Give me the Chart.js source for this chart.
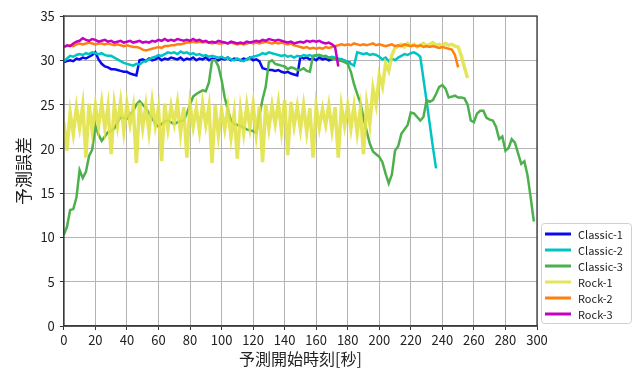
<!DOCTYPE html>
<html>
<head>
<meta charset="utf-8">
<script src="https://cdn.jsdelivr.net/npm/chart.js@4.4.1/dist/chart.umd.min.js"></script>
<style>
  body { margin: 0; background: #fff; }
  canvas { display: block; }
</style>
</head>
<body>
<canvas id="errorChart" width="639" height="369"></canvas>
<script>
// sample times [s], every 2 seconds
const seconds = [
  0, 2, 4, 6, 8, 10, 12, 14, 16, 18, 20, 22, 24, 26, 28, 30, 32, 34, 36, 38,
  40, 42, 44, 46, 48, 50, 52, 54, 56, 58, 60, 62, 64, 66, 68, 70, 72, 74, 76, 78,
  80, 82, 84, 86, 88, 90, 92, 94, 96, 98, 100, 102, 104, 106, 108, 110, 112, 114, 116, 118,
  120, 122, 124, 126, 128, 130, 132, 134, 136, 138, 140, 142, 144, 146, 148, 150, 152, 154, 156, 158,
  160, 162, 164, 166, 168, 170, 172, 174, 176, 178, 180, 182, 184, 186, 188, 190, 192, 194, 196, 198,
  200, 202, 204, 206, 208, 210, 212, 214, 216, 218, 220, 222, 224, 226, 228, 230, 232, 234, 236, 238,
  240, 242, 244, 246, 248, 250, 252, 254, 256, 258, 260, 262, 264, 266, 268, 270, 272, 274, 276, 278,
  280, 282, 284, 286, 288, 290, 292, 294, 296, 298
];

const seriesNames = ['Classic-1', 'Classic-2', 'Classic-3', 'Rock-1', 'Rock-2', 'Rock-3'];

const classic1 = [
  29.8, 29.9, 30.0, 29.9, 30.2, 30.1, 30.3, 30.2, 30.4, 30.6, 30.9, 30.1, 29.6, 29.3, 29.2, 29.0, 29.0, 28.9, 28.8, 28.7,
  28.7, 28.5, 28.4, 28.3, 30.0, 30.1, 29.9, 30.2, 30.0, 30.1, 30.3, 30.0, 30.2, 30.1, 30.3, 30.2, 30.1, 30.3, 30.0, 30.2,
  30.1, 30.3, 30.0, 30.2, 30.1, 30.3, 30.0, 30.2, 30.1, 30.0, 30.2, 30.1, 30.3, 30.0, 30.2, 30.1, 30.0, 30.2, 30.1, 30.3,
  30.0, 30.1, 29.9, 29.1, 29.0, 28.9, 28.9, 28.8, 28.9, 28.7, 28.6, 28.7, 28.5, 28.4, 28.3, 30.4, 30.2, 30.3, 30.1, 30.2,
  30.0, 30.3, 30.1, 30.2, 30.0, 30.1, 30.2, 30.0, 30.1, 29.9, 29.8, 29.7
];
const classic2 = [
  29.9, 30.2, 30.5, 30.4, 30.6, 30.7, 30.6, 30.8, 30.7, 30.9, 30.8, 30.7, 30.8, 30.6, 30.5, 30.5, 30.3, 30.1, 29.9, 29.7,
  29.6, 29.5, 29.4, 29.6, 29.5, 29.8, 29.9, 30.1, 30.3, 30.4, 30.6, 30.5, 30.7, 30.9, 30.8, 30.9, 30.7, 31.0, 30.8, 30.9,
  30.7, 30.8, 30.6, 30.7, 30.5, 30.6, 30.4, 30.5, 30.4, 30.3, 30.4, 30.2, 30.3, 30.1, 30.0, 30.2, 30.0, 29.9, 30.1, 30.3,
  30.4, 30.5, 30.6, 30.8, 30.7, 30.9, 30.8, 30.7, 30.6, 30.5, 30.6, 30.4, 30.5, 30.3, 30.5, 30.4, 30.6, 30.5, 30.6, 30.4,
  30.5, 30.6, 30.4, 30.5, 30.3, 30.4, 30.3, 30.2, 30.1, 30.0, 29.8, 29.6, 29.4, 30.9, 30.8, 30.7, 30.8, 30.6, 30.7, 30.6,
  30.4, 30.1, 30.3, 29.9, 30.2, 30.0, 30.3, 30.5, 30.7, 30.6, 30.8, 30.9, 30.7, 30.4, 27.9, 25.4, 22.8, 20.2, 17.8
];
const classic3 = [
  10.3, 11.2, 13.1, 13.2, 14.5, 17.6, 16.7, 17.4, 19.2, 19.9, 22.6, 21.6, 20.9, 21.4, 21.9, 22.0, 22.3, 23.0, 23.6, 23.5,
  23.4, 23.9, 24.3, 25.0, 25.4, 25.0, 24.6, 24.0, 23.5, 22.8, 22.5, 22.8, 23.1, 23.2, 23.0, 22.8, 23.0, 23.1, 23.2, 24.0,
  25.0, 25.9, 26.2, 26.4, 26.6, 26.5, 27.5, 30.0, 30.0, 29.3, 27.8, 25.8, 24.4, 23.2, 22.8, 22.7, 22.6, 22.4, 22.2, 22.1,
  22.0, 21.8, 23.8, 25.6, 27.0, 29.8, 30.0, 29.6, 29.5, 29.4, 29.3, 29.0, 29.2, 29.1, 28.9, 28.9, 29.1, 28.8, 28.7, 30.5,
  30.6, 30.6, 30.5, 30.4, 30.3, 30.2, 30.1, 30.0, 29.9, 29.8, 29.6, 28.7, 27.3, 26.2, 25.2, 23.5, 22.0, 20.6, 19.7, 19.4,
  19.1, 18.5, 17.2, 16.1, 17.1, 19.8, 20.3, 21.7, 22.2, 22.7, 24.1, 24.0, 23.6, 23.2, 23.6, 25.5, 25.3, 25.5, 26.2, 27.0,
  27.2, 26.8, 25.8, 25.9, 26.0, 25.8, 25.8, 25.7, 25.0, 23.2, 23.0, 24.0, 24.3, 24.3, 23.5, 23.3, 23.2, 22.5, 21.1, 21.4,
  19.8, 20.1, 21.1, 20.7, 19.5, 18.3, 18.6, 17.0, 14.5, 11.8
];
const rock1 = [
  23.0, 19.8, 24.1, 21.7, 24.7, 22.4, 24.9, 19.0, 25.1, 22.0, 24.9, 22.5, 25.2, 22.3, 24.8, 19.4, 25.0, 22.6, 25.3, 22.0,
  25.1, 22.8, 24.7, 18.4, 25.2, 22.4, 24.9, 21.9, 25.3, 22.6, 24.6, 18.6, 25.1, 22.3, 24.8, 22.9, 25.2, 21.8, 24.7, 19.0,
  25.0, 22.5, 24.6, 22.0, 25.1, 22.7, 24.8, 18.4, 24.9, 21.5, 24.3, 22.2, 24.6, 21.3, 24.0, 18.9, 24.4, 21.8, 24.9, 22.4,
  25.0, 21.6, 24.8, 18.5, 25.0, 22.3, 24.9, 22.8, 25.2, 22.0, 25.5, 19.3, 25.3, 22.6, 24.8, 22.2, 24.9, 21.9, 24.6, 19.0,
  24.8, 22.4, 24.5, 22.7, 24.9, 22.1, 24.7, 19.0, 24.8, 22.6, 24.9, 22.3, 24.8, 21.8, 24.5, 19.4, 25.1, 22.8, 26.8, 25.0,
  28.3, 27.0, 29.6, 28.8, 30.6, 31.4, 31.6, 31.8, 31.5, 31.9, 31.6, 31.8, 31.5, 31.7, 31.9, 31.6, 31.8, 32.0, 31.7, 31.8,
  31.6, 31.9, 31.7, 31.8, 31.6, 31.5, 30.5, 29.2, 28.0
];
const rock2 = [
  31.5, 31.6, 31.7, 31.6, 31.8, 31.9, 31.8, 31.9, 32.0, 31.9, 31.8, 31.9, 31.9, 31.8, 31.9, 31.8, 31.7, 31.8, 31.7, 31.6,
  31.7, 31.6, 31.5, 31.5, 31.4, 31.2, 31.1, 31.2, 31.3, 31.4, 31.5, 31.4, 31.6, 31.6, 31.7, 31.7, 31.8, 31.8, 31.9, 32.0,
  32.0, 32.1, 32.0, 32.1, 32.0, 32.1, 32.0, 31.9, 32.0, 31.9, 31.9, 32.0, 31.9, 32.0, 31.9, 31.8, 31.9, 31.8, 31.9, 32.0,
  31.9, 32.0, 31.9, 32.0, 32.1, 32.0, 31.9, 32.0, 31.9, 32.0, 31.9, 31.8, 31.9, 31.7, 31.6, 31.5, 31.4, 31.5, 31.3, 31.4,
  31.3, 31.4, 31.3, 31.5, 31.4, 31.5, 31.6, 31.7, 31.8, 31.7, 31.8, 31.7, 31.9, 31.8, 31.7, 31.8, 31.7, 31.8, 31.9, 31.7,
  31.8, 31.7, 31.6, 31.7, 31.8, 31.6, 31.7, 31.6, 31.8, 31.7, 31.6, 31.7, 31.6, 31.7, 31.5, 31.6, 31.5, 31.6, 31.5, 31.4,
  31.5, 31.4, 31.3, 31.2, 30.6, 29.2
];
const rock3 = [
  31.5, 31.7, 31.6, 31.9, 32.1, 32.2, 32.5, 32.3, 32.2, 32.4, 32.3, 32.1, 32.2, 32.3, 32.1, 32.2, 32.0, 32.1, 32.2, 32.0,
  32.1, 32.2, 32.0, 32.1, 32.2, 32.0, 32.1, 32.0, 32.2, 32.1, 32.3, 32.2, 32.4, 32.2, 32.3, 32.2, 32.4, 32.3, 32.2, 32.3,
  32.2, 32.4, 32.2, 32.3, 32.1, 32.2, 32.0, 32.1, 32.0, 32.2, 32.1, 32.0, 31.9, 32.1, 32.0, 31.9, 32.0, 31.9, 32.1, 32.0,
  32.1, 32.2, 32.1, 32.3, 32.2, 32.4, 32.3, 32.2, 32.3, 32.2, 32.1, 32.0, 32.1, 31.9, 32.0, 32.1, 32.0, 32.2, 32.1, 32.2,
  32.1, 32.2, 32.0, 31.9, 32.0, 31.8, 31.5, 29.3
];

const xTicks = [0, 20, 40, 60, 80, 100, 120, 140, 160, 180, 200, 220, 240, 260, 280, 300];
const yTicks = [0, 5, 10, 15, 20, 25, 30, 35];

const allSeries = [classic1, classic2, classic3, rock1, rock2, rock3];
const lineColors = ['#0a0af0', '#00c4c4', '#4cb04c', 'rgba(226,226,72,0.9)', '#ff7f10', '#c400c4'];
const lineWidths = [2.5, 2.5, 2.5, 3.5, 2.5, 2.5];

const FONT = '"Noto Sans CJK JP", "Noto Sans", sans-serif';

function toPoints(values) {
  return values.map((v, i) => ({ x: seconds[i], y: v }));
}

// spines on all four sides + the boxed legend at the lower right
const frameAndLegend = {
  id: 'frameAndLegend',
  afterDraw(chart) {
    const { ctx, chartArea } = chart;
    ctx.save();
    ctx.strokeStyle = '#3a3a3a';
    ctx.lineWidth = 1.3;
    ctx.strokeRect(chartArea.left, chartArea.top,
      chartArea.right - chartArea.left, chartArea.bottom - chartArea.top);

    const bx = 541.5, by = 223.5, bw = 90, bh = 100;
    ctx.fillStyle = 'rgba(255,255,255,0.85)';
    ctx.strokeStyle = '#d0d0d0';
    ctx.lineWidth = 1;
    ctx.beginPath();
    ctx.roundRect(bx, by, bw, bh, 3);
    ctx.fill();
    ctx.stroke();

    ctx.font = '11px ' + FONT;
    ctx.textBaseline = 'middle';
    ctx.textAlign = 'left';
    chart.data.datasets.forEach((ds, i) => {
      const y = 234 + i * 16;
      ctx.strokeStyle = ds.borderColor;
      ctx.lineWidth = 3;
      ctx.beginPath();
      ctx.moveTo(545, y);
      ctx.lineTo(571, y);
      ctx.stroke();
      ctx.fillStyle = '#222';
      ctx.fillText(ds.label, 578, y + 0.5);
    });
    ctx.restore();
  }
};

const ctx = document.querySelector('#errorChart').getContext('2d');
const errorChart = new Chart(ctx, {
  type: 'line',
  data: {
    datasets: allSeries.map((values, i) => ({
      label: seriesNames[i],
      data: toPoints(values),
      borderColor: lineColors[i],
      backgroundColor: lineColors[i],
      borderWidth: lineWidths[i],
      pointRadius: 0,
      tension: 0,
      fill: false,
      order: allSeries.length - 1 - i
    }))
  },
  options: {
    responsive: false,
    animation: false,
    layout: { padding: { left: 13, right: 102, top: 16, bottom: 0 } },
    plugins: {
      legend: { display: false },
      tooltip: { enabled: false }
    },
    scales: {
      x: {
        type: 'linear',
        min: 0,
        max: 300,
        afterBuildTicks: axis => { axis.ticks = xTicks.map(v => ({ value: v })); },
        ticks: { color: '#222', font: { family: FONT, size: 13, lineHeight: 1 }, padding: 4, maxRotation: 0 },
        grid: { color: '#b4b4b4', lineWidth: 1, tickLength: 4, tickColor: '#333' },
        border: { color: '#3a3a3a', width: 1.3 },
        title: { display: true, text: '予測開始時刻[秒]', color: '#222', font: { family: FONT, size: 16, lineHeight: 1 }, padding: { top: 0, bottom: 2 } }
      },
      y: {
        min: 0,
        max: 35,
        afterBuildTicks: axis => { axis.ticks = yTicks.map(v => ({ value: v })); },
        ticks: { color: '#222', font: { family: FONT, size: 13 }, padding: 5 },
        grid: { color: '#b4b4b4', lineWidth: 1, tickLength: 4, tickColor: '#333' },
        border: { color: '#3a3a3a', width: 1.3 },
        title: { display: true, text: '予測誤差', color: '#222', font: { family: FONT, size: 17 }, padding: { top: 0, bottom: 2 } }
      }
    }
  },
  plugins: [frameAndLegend]
});
</script>
</body>
</html>
